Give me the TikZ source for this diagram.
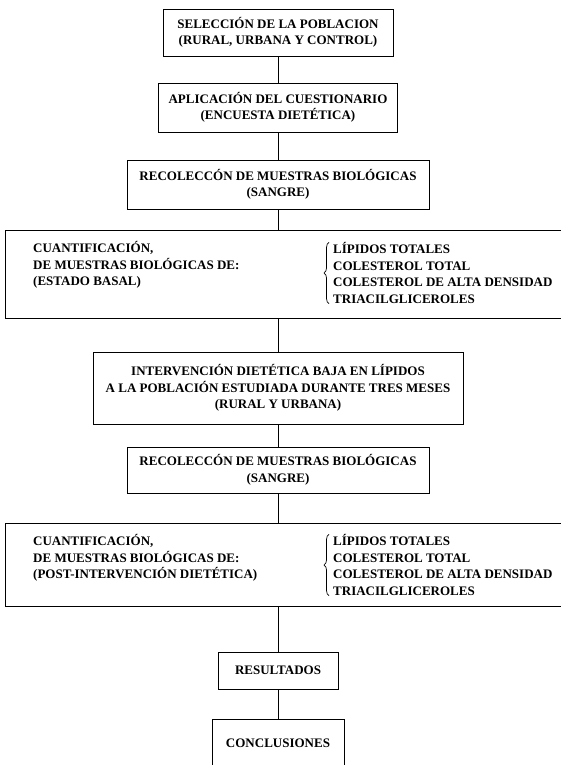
\documentclass[tikz,border=0pt]{standalone}
\usepackage{fontspec}
\setmainfont{Liberation Serif}
\usetikzlibrary{decorations.pathreplacing}

\begin{document}
\begin{tikzpicture}[x=1pt, y=-1pt,
  every node/.style={font=\fontsize{13}{16.5}\selectfont\bfseries},
  etapa/.style={draw, line width=0.9pt, align=center, inner xsep=10pt, inner ysep=0pt},
  ancha/.style={draw, line width=0.9pt, anchor=north west, minimum width=580pt, inner sep=0pt},
  lista/.style={align=left, anchor=west, inner sep=0pt},
  llave/.style={decorate, decoration={brace, amplitude=5pt}, line width=0.7pt},
  linea/.style={line width=0.9pt}]
  % Page
  \useasboundingbox (0,0) rectangle (561,765);
  \clip (0,0) rectangle (561,765);

  % Boxes
  \node[etapa, minimum width=230pt, minimum height=47pt] (pob) at (278,32.5)
    {SELECCIÓN DE LA POBLACION\\(RURAL, URBANA Y CONTROL)};
  \node[etapa, minimum width=238pt, minimum height=49pt] (cuest) at (278,107.5)
    {APLICACIÓN DEL CUESTIONARIO\\(ENCUESTA DIETÉTICA)};
  \node[etapa, minimum width=302pt, minimum height=49pt] (recol1) at (278,184.5)
    {RECOLECCÓN DE MUESTRAS BIOLÓGICAS\\(SANGRE)};

  \node[ancha, minimum height=88pt] (cuant1) at (5,230) {};
  \node[lista] (cuant1txt) at (33,265)
    {CUANTIFICACIÓN,\\DE MUESTRAS BIOLÓGICAS DE:\\(ESTADO BASAL)};
  \node[lista] (lip1) at (333,273)
    {LÍPIDOS TOTALES\\COLESTEROL TOTAL\\COLESTEROL DE ALTA DENSIDAD\\TRIACILGLICEROLES};

  \node[etapa, minimum width=370pt, minimum height=72pt] (interv) at (278,388)
    {INTERVENCIÓN DIETÉTICA BAJA EN LÍPIDOS\\A LA POBLACIÓN ESTUDIADA DURANTE TRES MESES\\(RURAL Y URBANA)};
  \node[etapa, minimum width=302pt, minimum height=46pt] (recol2) at (278,470)
    {RECOLECCÓN DE MUESTRAS BIOLÓGICAS\\(SANGRE)};

  \node[ancha, minimum height=83pt] (cuant2) at (5,523) {};
  \node[lista] (cuant2txt) at (33,558)
    {CUANTIFICACIÓN,\\DE MUESTRAS BIOLÓGICAS DE:\\(POST-INTERVENCIÓN DIETÉTICA)};
  \node[lista] (lip2) at (333,565)
    {LÍPIDOS TOTALES\\COLESTEROL TOTAL\\COLESTEROL DE ALTA DENSIDAD\\TRIACILGLICEROLES};

  \node[etapa, minimum width=120pt, minimum height=37pt] (res) at (278,670.5) {RESULTADOS};
  \node[etapa, minimum width=132pt, anchor=north, inner ysep=19pt, text depth=12pt] (conc) at (278,719) {CONCLUSIONES};

  % Braces
  \draw[llave] ([xshift=-4pt]lip1.south west) -- ([xshift=-4pt]lip1.north west);
  \draw[llave] ([xshift=-4pt]lip2.south west) -- ([xshift=-4pt]lip2.north west);

  % Lines
  \draw[linea] (pob) -- (cuest);
  \draw[linea] (cuest) -- (recol1);
  \draw[linea] (recol1) -- (recol1.south |- cuant1.north);
  \draw[linea] (interv.north |- cuant1.south) -- (interv);
  \draw[linea] (interv) -- (recol2);
  \draw[linea] (recol2) -- (recol2.south |- cuant2.north);
  \draw[linea] (res.north |- cuant2.south) -- (res);
  \draw[linea] (res) -- (conc);
\end{tikzpicture}
\end{document}
